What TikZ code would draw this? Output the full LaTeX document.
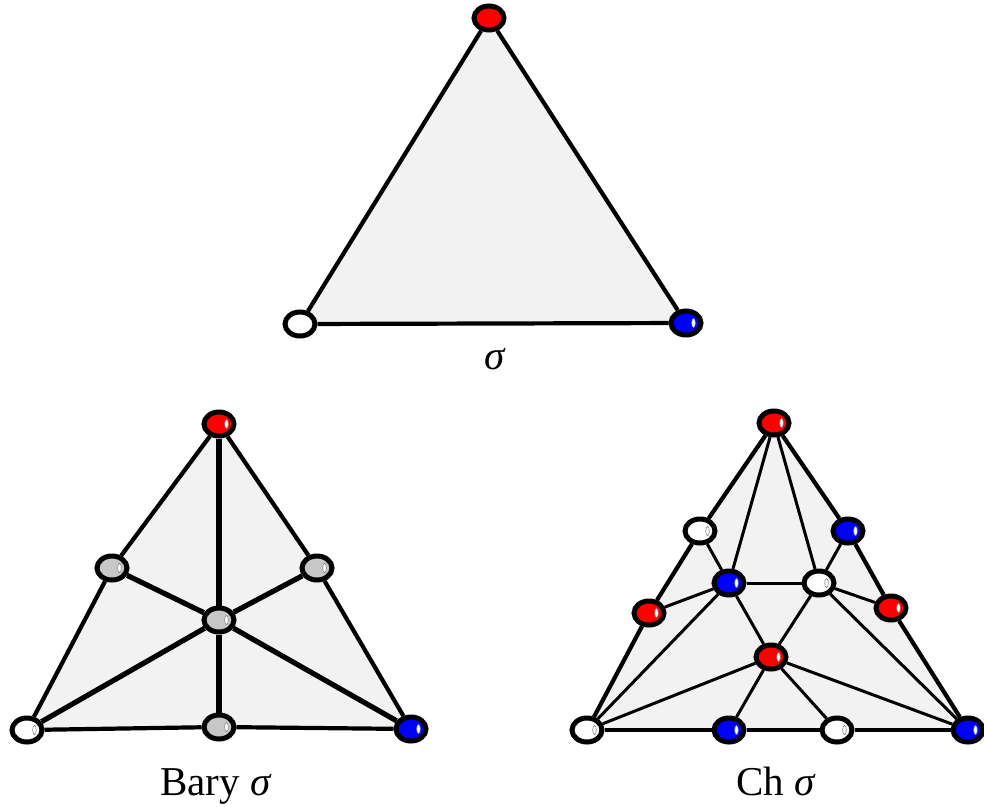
\documentclass[tikz,border=0pt]{standalone}
\usepackage{fontspec}
\setmainfont{Liberation Serif}
\usetikzlibrary{shapes.geometric, backgrounds}

\begin{document}
\begin{tikzpicture}[x=1pt, y=-1pt,
  vtx/.style={ellipse, draw=black, line width=5pt, minimum width=30pt,
              minimum height=24pt, inner sep=0pt},
  shine/.style={path picture={\filldraw[fill=white, draw=gray, line width=0.6pt]
              ([xshift=7.5pt]path picture bounding box.center)
              ellipse [x radius=1.8pt, y radius=4.6pt];}},
  redv/.style={vtx, fill=red},
  bluev/.style={vtx, fill=blue},
  whitev/.style={vtx, fill=white},
  grayv/.style={vtx, fill=black!22},
  face/.style={fill=black!5},
  rim/.style={line width=4.2pt},
  spoke/.style={line width=5.2pt},
  inner/.style={line width=3pt},
  lbl/.style={anchor=base, font=\fontsize{41}{48}\selectfont},
]
\useasboundingbox (0,0) rectangle (984,806);

\node[redv]          (sA)  at (489,18)  {};
\node[whitev]        (sB)  at (300,324) {};
\node[bluev, shine]  (sC)  at (686,323) {};
\node[lbl]           (sL)  at (495,369) {\textit{σ}};
\draw[rim] (sA) -- (sB);
\draw[rim] (sB) -- (sC);
\draw[rim] (sC) -- (sA);

\node[redv, shine]   (bA)  at (219,424) {};
\node[whitev, shine] (bB)  at (27,730)  {};
\node[bluev, shine]  (bC)  at (411,729) {};
\node[grayv, shine]  (bAB) at (112,568) {};
\node[grayv, shine]  (bAC) at (317,568) {};
\node[grayv, shine]  (bBC) at (219,727) {};
\node[grayv, shine]  (bO)  at (219,620) {};
\node[lbl]           (bL)  at (216,795) {Bary \textit{σ}};
\draw[rim] (bA) -- (bAB);
\draw[rim] (bAB) -- (bB);
\draw[rim] (bB) -- (bBC);
\draw[rim] (bBC) -- (bC);
\draw[rim] (bC) -- (bAC);
\draw[rim] (bAC) -- (bA);
\draw[spoke] (bA) -- (bO);
\draw[spoke] (bO) -- (bBC);
\draw[spoke] (bAB) -- (bO);
\draw[spoke] (bO) -- (bC);
\draw[spoke] (bAC) -- (bO);
\draw[spoke] (bO) -- (bB);

\node[redv, shine]   (cA)   at (774,423) {};
\node[whitev, shine] (cB)   at (587,730) {};
\node[bluev, shine]  (cC)   at (968,730) {};
\node[whitev, shine] (cAB1) at (700,531) {};
\node[redv, shine]   (cAB2) at (649,613) {};
\node[bluev, shine]  (cAC1) at (848,531) {};
\node[redv, shine]   (cAC2) at (891,608) {};
\node[bluev, shine]  (cBC1) at (729,730) {};
\node[whitev, shine] (cBC2) at (837,730) {};
\node[bluev, shine]  (cP)   at (729,583) {};
\node[whitev, shine] (cQ)   at (819,583) {};
\node[redv, shine]   (cR)   at (771,657) {};
\node[lbl]           (cL)   at (776,795) {Ch \textit{σ}};
\draw[rim] (cA) -- (cAB1);
\draw[rim] (cAB1) -- (cAB2);
\draw[rim] (cAB2) -- (cB);
\draw[rim] (cB) -- (cBC1);
\draw[rim] (cBC1) -- (cBC2);
\draw[rim] (cBC2) -- (cC);
\draw[rim] (cC) -- (cAC2);
\draw[rim] (cAC2) -- (cAC1);
\draw[rim] (cAC1) -- (cA);
\draw[inner] (cA) -- (cP);
\draw[inner] (cA) -- (cQ);
\draw[inner] (cAB1) -- (cP);
\draw[inner] (cAB2) -- (cP);
\draw[inner] (cP) -- (cQ);
\draw[inner] (cAC1) -- (cQ);
\draw[inner] (cAC2) -- (cQ);
\draw[inner] (cP) -- (cB);
\draw[inner] (cQ) -- (cC);
\draw[inner] (cP) -- (cR);
\draw[inner] (cQ) -- (cR);
\draw[inner] (cR) -- (cB);
\draw[inner] (cR) -- (cC);
\draw[inner] (cR) -- (cBC1);
\draw[inner] (cR) -- (cBC2);

\begin{scope}[on background layer]
  \fill[face] (sA.center) -- (sB.center) -- (sC.center) -- cycle;
  \fill[face] (bA.center) -- (bAB.center) -- (bB.center) -- (bBC.center)
    -- (bC.center) -- (bAC.center) -- cycle;
  \fill[face] (cA.center) -- (cAB1.center) -- (cAB2.center) -- (cB.center)
    -- (cBC1.center) -- (cBC2.center) -- (cC.center) -- (cAC2.center)
    -- (cAC1.center) -- cycle;
\end{scope}
\end{tikzpicture}
\end{document}
